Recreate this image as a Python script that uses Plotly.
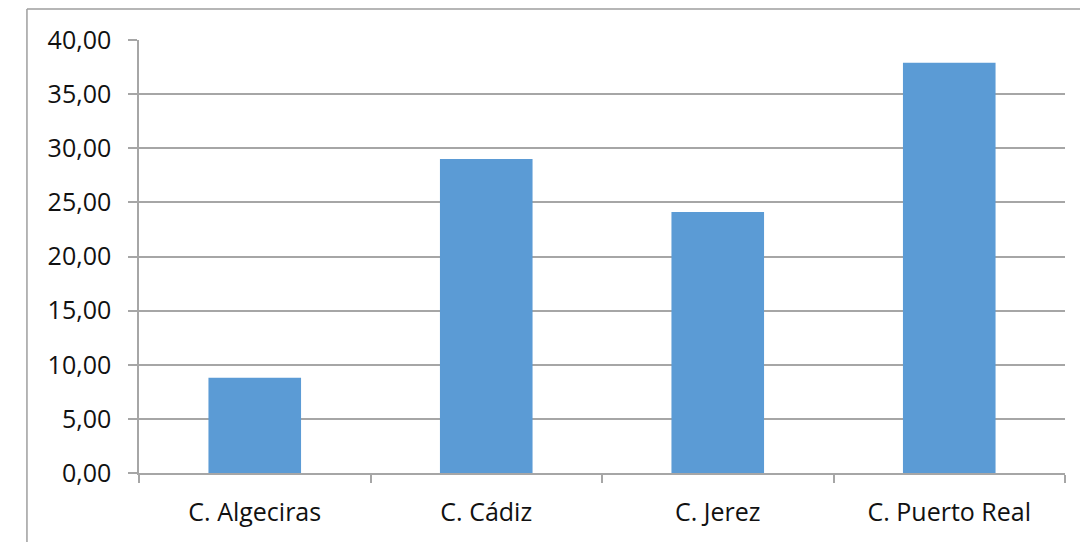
import plotly.graph_objects as go

categories = ["C. Algeciras", "C. Cádiz", "C. Jerez", "C. Puerto Real"]
values = [8.8, 29.0, 24.1, 37.9]
y_ticks = [0, 5, 10, 15, 20, 25, 30, 35, 40]

bar_color = "#5B9BD5"
grid_color = "#A6A6A6"
text_color = "#111111"
font_family = "Open Sans, sans-serif"

fig = go.Figure(
    go.Bar(x=categories, y=values, marker=dict(color=bar_color, line=dict(width=0)), width=0.4)
)

fig.update_layout(
    width=1080,
    height=534,
    margin=dict(l=131, r=23, t=32, b=69),
    paper_bgcolor="white",
    plot_bgcolor="white",
    separators=",.",
    showlegend=False,
    font=dict(family=font_family, size=25, color=text_color),
    bargap=0.6,
)

fig.update_xaxes(
    type="category",
    showline=True,
    linecolor=grid_color,
    linewidth=1.5,
    ticks="outside",
    tickson="boundaries",
    ticklen=8,
    tickwidth=1.5,
    tickcolor=grid_color,
    showgrid=False,
    ticklabelstandoff=16,
    tickfont=dict(size=25, family=font_family, color=text_color),
)

fig.update_yaxes(
    range=[0, 40],
    tickvals=y_ticks,
    tickformat=".2f",
    showline=True,
    linecolor=grid_color,
    linewidth=1.5,
    ticks="outside",
    ticklen=9,
    tickwidth=1.5,
    tickcolor=grid_color,
    showgrid=True,
    gridcolor=grid_color,
    gridwidth=1.5,
    zeroline=False,
    ticklabelstandoff=12,
    tickfont=dict(size=25, family=font_family, color=text_color),
)

# outer chart frame (left and top edges visible)
fig.add_shape(type="line", xref="paper", yref="paper",
              x0=-0.121, x1=-0.121, y0=-0.3, y1=1.0716,
              line=dict(color="#9E9E9E", width=1.5))
fig.add_shape(type="line", xref="paper", yref="paper",
              x0=-0.121, x1=1.1, y0=1.0716, y1=1.0716,
              line=dict(color="#9E9E9E", width=1.5))

fig.write_html("out.html")
